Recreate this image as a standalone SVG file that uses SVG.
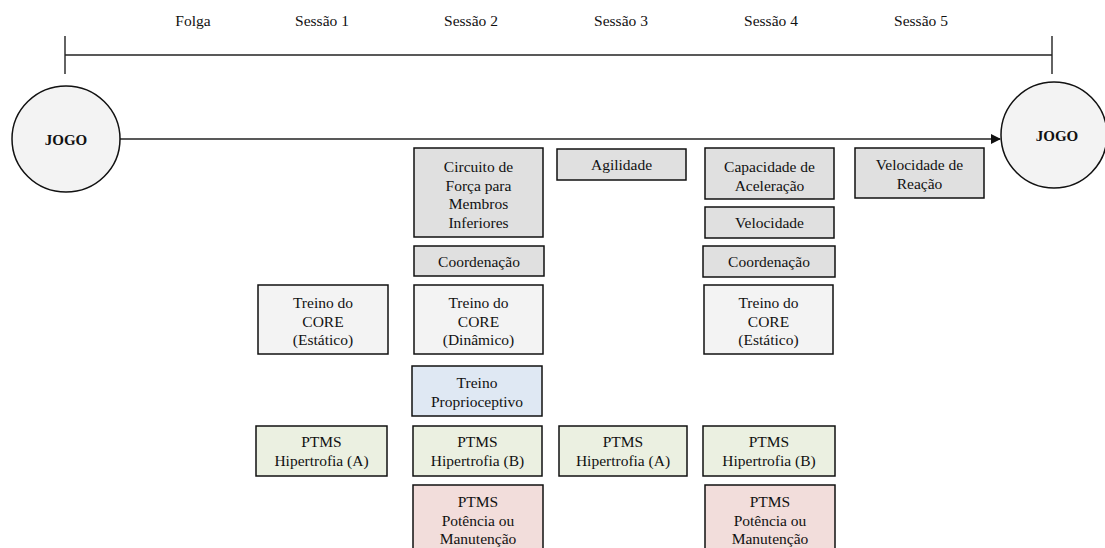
<svg xmlns="http://www.w3.org/2000/svg" width="1105" height="548" viewBox="0 0 1105 548">
<style>
text{font-family:"Liberation Serif","Times New Roman",serif;font-size:15.5px;fill:#111;text-anchor:middle}
.hdr{font-size:15.5px}
.jogo{font-weight:bold;font-size:15px}
.box{stroke:#111;stroke-width:1.5}
.g{fill:#e0e0e0}
.w{fill:#f3f3f3}
.b{fill:#dfe8f3}
.gr{fill:#ebf0e1}
.p{fill:#f2dddb}
.ln{stroke:#222;stroke-width:1.4;fill:none}
ellipse{fill:#f3f3f3;stroke:#111;stroke-width:1.5}
</style>
<defs>
<marker id="ah" markerWidth="10" markerHeight="10" refX="9" refY="5" orient="auto" markerUnits="userSpaceOnUse">
<path d="M0,0 L10,5 L0,10 Z" fill="#111"/>
</marker>
</defs>
<rect width="1105" height="548" fill="#fff"/>
<g font-family="Liberation Serif, Times New Roman, serif">
<g id="headers">
<text class="hdr" x="193" y="25.5">Folga</text>
<text class="hdr" x="322" y="25.5">Sessão 1</text>
<text class="hdr" x="471" y="25.5">Sessão 2</text>
<text class="hdr" x="621" y="25.5">Sessão 3</text>
<text class="hdr" x="771" y="25.5">Sessão 4</text>
<text class="hdr" x="921" y="25.5">Sessão 5</text>
</g>
<g id="connectors">
<line class="ln" x1="65" y1="55" x2="1052" y2="55"/>
<line class="ln" x1="65" y1="36" x2="65" y2="74"/>
<line class="ln" x1="1052" y1="36" x2="1052" y2="74"/>
<line class="ln" x1="119" y1="139" x2="1000" y2="139" marker-end="url(#ah)"/>
</g>
<g id="jogo-start"><ellipse cx="66" cy="139" rx="54" ry="53"/><text class="jogo" x="66" y="144.5">JOGO</text></g>
<g id="jogo-end"><ellipse cx="1054" cy="135" rx="53" ry="53"/><text class="jogo" x="1057" y="140.5">JOGO</text></g>
<g id="circuito"><rect class="box g" x="414" y="148" width="129" height="89"/>
<text x="478.5" y="172">Circuito de</text><text x="478.5" y="190.5">Força para</text><text x="478.5" y="209">Membros</text><text x="478.5" y="227.5">Inferiores</text></g>
<g id="agilidade"><rect class="box g" x="557" y="149" width="129" height="31"/><text x="621.5" y="170">Agilidade</text></g>
<g id="capacidade"><rect class="box g" x="705" y="148" width="129" height="51"/><text x="769.5" y="172">Capacidade de</text><text x="769.5" y="190.5">Aceleração</text></g>
<g id="vel-reacao"><rect class="box g" x="855" y="148" width="129" height="50"/><text x="919.5" y="170">Velocidade de</text><text x="919.5" y="188.5">Reação</text></g>
<g id="velocidade"><rect class="box g" x="705" y="207" width="129" height="31"/><text x="769.5" y="228">Velocidade</text></g>
<g id="coord-s2"><rect class="box g" x="414" y="246" width="130" height="30"/><text x="479" y="266.5">Coordenação</text></g>
<g id="coord-s4"><rect class="box g" x="703" y="246" width="132" height="31"/><text x="769" y="266.5">Coordenação</text></g>
<g id="core-s1"><rect class="box w" x="258" y="285" width="130" height="69"/><text x="323" y="308">Treino do</text><text x="323" y="326.5">CORE</text><text x="323" y="345">(Estático)</text></g>
<g id="core-s2"><rect class="box w" x="414" y="285" width="129" height="69"/><text x="478.5" y="308">Treino do</text><text x="478.5" y="326.5">CORE</text><text x="478.5" y="345">(Dinâmico)</text></g>
<g id="core-s4"><rect class="box w" x="704" y="285" width="129" height="69"/><text x="768.5" y="308">Treino do</text><text x="768.5" y="326.5">CORE</text><text x="768.5" y="345">(Estático)</text></g>
<g id="proprio"><rect class="box b" x="412" y="366" width="130" height="50"/><text x="477" y="388">Treino</text><text x="477" y="406.5">Proprioceptivo</text></g>
<g id="ptms-a-s1"><rect class="box gr" x="256" y="426" width="131" height="50"/><text x="321.5" y="447">PTMS</text><text x="321.5" y="465.5">Hipertrofia (A)</text></g>
<g id="ptms-b-s2"><rect class="box gr" x="413" y="426" width="129" height="50"/><text x="477.5" y="447">PTMS</text><text x="477.5" y="465.5">Hipertrofia (B)</text></g>
<g id="ptms-a-s3"><rect class="box gr" x="559" y="426" width="128" height="50"/><text x="623" y="447">PTMS</text><text x="623" y="465.5">Hipertrofia (A)</text></g>
<g id="ptms-b-s4"><rect class="box gr" x="703" y="426" width="132" height="50"/><text x="769" y="447">PTMS</text><text x="769" y="465.5">Hipertrofia (B)</text></g>
<g id="pot-s2"><rect class="box p" x="413" y="485" width="130" height="80"/><text x="478" y="507">PTMS</text><text x="478" y="525.5">Potência ou</text><text x="478" y="544">Manutenção</text></g>
<g id="pot-s4"><rect class="box p" x="705" y="485" width="130" height="80"/><text x="770" y="507">PTMS</text><text x="770" y="525.5">Potência ou</text><text x="770" y="544">Manutenção</text></g>
</g>
</svg>
